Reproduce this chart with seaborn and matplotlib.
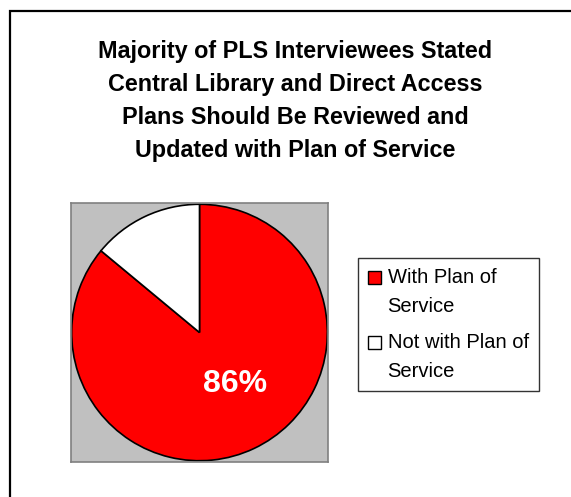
import numpy as np
import pandas as pd
import matplotlib
matplotlib.use('Agg')
import matplotlib.pyplot as plt
from matplotlib.patches import Rectangle, Patch
from matplotlib.legend_handler import HandlerPatch
import seaborn as sns

# data
labels = ['With Plan of\nService', 'Not with Plan of\nService']
shares = [86, 14]
colors = ['#FF0000', '#FFFFFF']
title = ('Majority of PLS Interviewees Stated\nCentral Library and Direct Access\n'
         'Plans Should Be Reviewed and\nUpdated with Plan of Service')

sns.set_theme(style='white')
plt.rcParams['font.family'] = ['Liberation Sans', 'DejaVu Sans']
plt.rcParams['text.color'] = 'black'

fig = plt.figure(figsize=(5.71, 4.97), dpi=100)
fig.patch.set_facecolor('white')

# outer frame running off the right and bottom
fig.patches.append(Rectangle((10 / 571, -0.05), 1.1, 1 - 11 / 497 + 0.05,
                             transform=fig.transFigure, fill=False,
                             edgecolor='black', linewidth=1.6, zorder=0))

fig.text(295 / 571, 1 - 40 / 497, title, ha='center', va='top', color='black',
         fontsize=16.8, fontweight='bold', linespacing=1.56)

ax = fig.add_axes([71 / 571, 1 - 462 / 497, 257 / 571, 259 / 497])
wedges, texts, autotexts = ax.pie(shares, colors=colors, startangle=90, counterclock=False,
                                  autopct=lambda p: '%d%%' % round(p) if p > 50 else '',
                                  pctdistance=0.5, radius=1.0, frame=True,
                                  wedgeprops=dict(edgecolor='black', linewidth=1.2))
for t in autotexts:
    t.set_color('white')
    t.set_fontsize(23)
    t.set_fontweight('bold')
    t.set_position((0.28, -0.40))
ax.set_facecolor('#C0C0C0')
ax.set_xlim(-1.005, 1.005)
ax.set_ylim(-1.01, 1.01)
ax.set_aspect('auto')
ax.set_xticks([])
ax.set_yticks([])
for s in ax.spines.values():
    s.set_visible(True)
    s.set_color('#808080')
    s.set_linewidth(1.2)


# legend square sits beside the first line of its label
def top_square(legend, orig_handle, xdescent, ydescent, width, height, fontsize):
    return Rectangle((-xdescent, -ydescent + 0.75 * fontsize), width, height)


handles = [Patch(facecolor=c, edgecolor='black', linewidth=1) for c in colors]
leg = fig.legend(handles, labels, loc='upper left', bbox_to_anchor=(358 / 571, 1 - 258 / 497),
                 bbox_transform=fig.transFigure, borderaxespad=0, fontsize=14.5,
                 handlelength=0.62, handleheight=0.62, handletextpad=0.35,
                 labelspacing=0.85, borderpad=0.5, fancybox=False, frameon=True,
                 handler_map={Patch: HandlerPatch(patch_func=top_square)})
leg.get_frame().set_edgecolor('black')
leg.get_frame().set_linewidth(1.0)
for t in leg.get_texts():
    t.set_linespacing(1.65)
    t.set_color('black')

fig.savefig('out.png', dpi=100)
